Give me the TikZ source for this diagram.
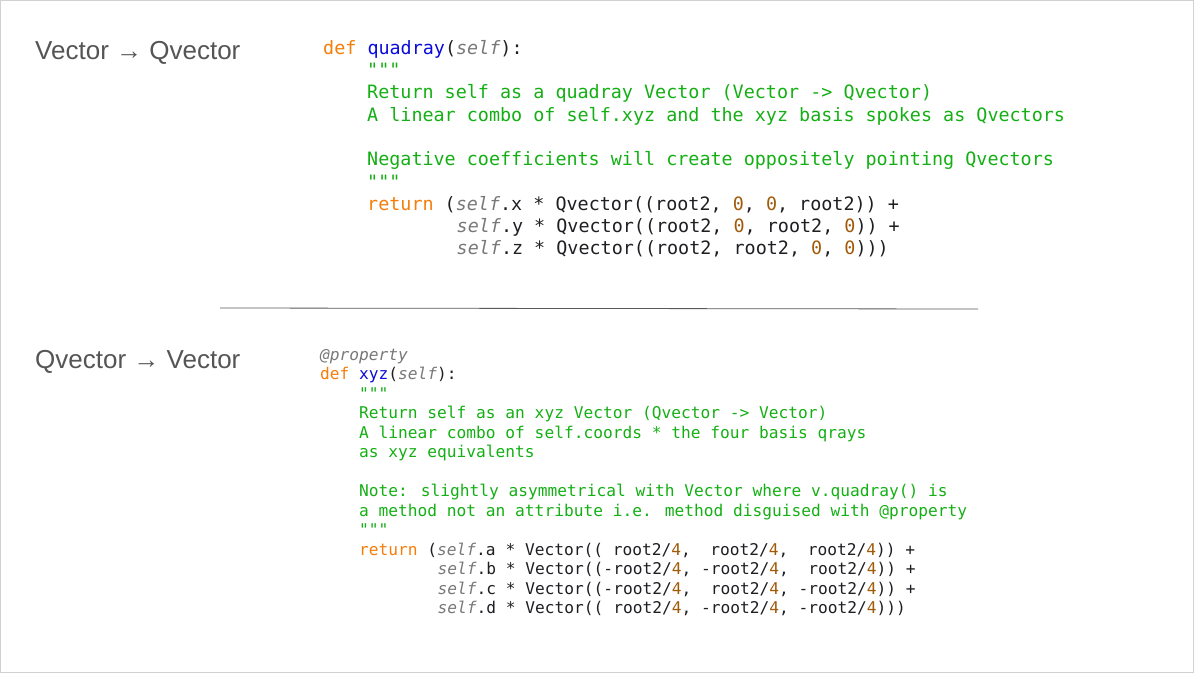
\documentclass[tikz,border=0pt]{standalone}
\usepackage{fontspec}
\setmainfont{Liberation Sans}
\newfontfamily\codefont{DejaVu Sans Mono}
\definecolor{kwc}{RGB}{245,125,10}
\definecolor{fnc}{RGB}{10,10,220}
\definecolor{strc}{RGB}{20,175,20}
\definecolor{selfc}{RGB}{120,120,120}
\definecolor{numc}{RGB}{160,90,10}
\definecolor{txtc}{RGB}{30,30,35}
\definecolor{titc}{RGB}{85,85,85}
\newcommand\kw[1]{\textcolor{kwc}{#1}}
\newcommand\fn[1]{\textcolor{fnc}{#1}}
\newcommand\slf{\textcolor{selfc}{\itshape self}}
\newcommand\nm[1]{\textcolor{numc}{#1}}
\begin{document}
\begin{tikzpicture}[x=1pt,y=1pt,
  ctop/.style={anchor=base west,inner sep=0pt,font=\codefont\fontsize{18.4}{20}\selectfont,text=txtc},
  cbot/.style={anchor=base west,inner sep=0pt,font=\codefont\fontsize{16.2}{18}\selectfont,text=txtc},
  gs/.style={text=strc},
  title/.style={anchor=base west,inner sep=0pt,font=\fontsize{26}{30}\selectfont,text=titc}]
\useasboundingbox (0,0) rectangle (1194,-673);
\draw[gray!35] (0.5,-0.5) rectangle (1193.5,-672.5);
\node[title] (t1) at (35,-59) {Vector → Qvector};
\node[title] (t2) at (35,-368) {Qvector → Vector};
% top code
\node[ctop] (a1) at (323,-54) {\kw{def} \fn{quadray}(\slf):};
\node[ctop,gs] (a2) at (367,-76) {"""};
\node[ctop,gs] (a3) at (367,-98.5) {Return self as a quadray Vector (Vector -> Qvector)};
\node[ctop,gs] (a4) at (367,-121) {A linear combo of self.xyz and the xyz basis spokes as Qvectors};
\node[ctop,gs] (a5) at (367,-165.5) {Negative coefficients will create oppositely pointing Qvectors};
\node[ctop,gs] (a6) at (367,-188) {"""};
\node[ctop] (a7) at (367,-210) {\kw{return} (\slf.x * Qvector((root2, \nm{0}, \nm{0}, root2)) +};
\node[ctop] (a8) at (456.5,-232) {\slf.y * Qvector((root2, \nm{0}, root2, \nm{0})) +};
\node[ctop] (a9) at (456.5,-254.5) {\slf.z * Qvector((root2, root2, \nm{0}, \nm{0})))};
\coordinate (l1) at (220,-308);
\coordinate (l2) at (978,-309);
\draw[gray!70!black,line width=0.8pt] (l1) -- (l2);
% bottom code
\node[cbot,text=selfc,font=\codefont\itshape\fontsize{16.2}{18}\selectfont] (b0) at (320,-360) {@property};
\node[cbot] (b1) at (320,-379.5) {\kw{def} \fn{xyz}(\slf):};
\node[cbot,gs] (b2) at (359,-399) {"""};
\node[cbot,gs] (b3) at (359,-418.5) {Return self as an xyz Vector (Qvector -> Vector)};
\node[cbot,gs] (b4) at (359,-438) {A linear combo of self.coords * the four basis qrays};
\node[cbot,gs] (b5) at (359,-457.5) {as xyz equivalents};
\node[cbot,gs] (b6) at (359,-496.5) {Note: slightly asymmetrical with Vector where v.quadray() is};
\node[cbot,gs] (b7) at (359,-516) {a method not an attribute i.e. method disguised with @property};
\node[cbot,gs] (b8) at (359,-535.5) {"""};
\node[cbot] (b9) at (359,-555) {\kw{return} (\slf.a * Vector((\ root2/\nm{4},\ \ root2/\nm{4},\ \ root2/\nm{4})) +};
\node[cbot] (b10) at (437.5,-574.5) {\slf.b * Vector((-root2/\nm{4}, -root2/\nm{4},\ \ root2/\nm{4})) +};
\node[cbot] (b11) at (437.5,-594) {\slf.c * Vector((-root2/\nm{4},\ \ root2/\nm{4}, -root2/\nm{4})) +};
\node[cbot] (b12) at (437.5,-613.5) {\slf.d * Vector((\ root2/\nm{4}, -root2/\nm{4}, -root2/\nm{4})))};
\end{tikzpicture}
\end{document}
